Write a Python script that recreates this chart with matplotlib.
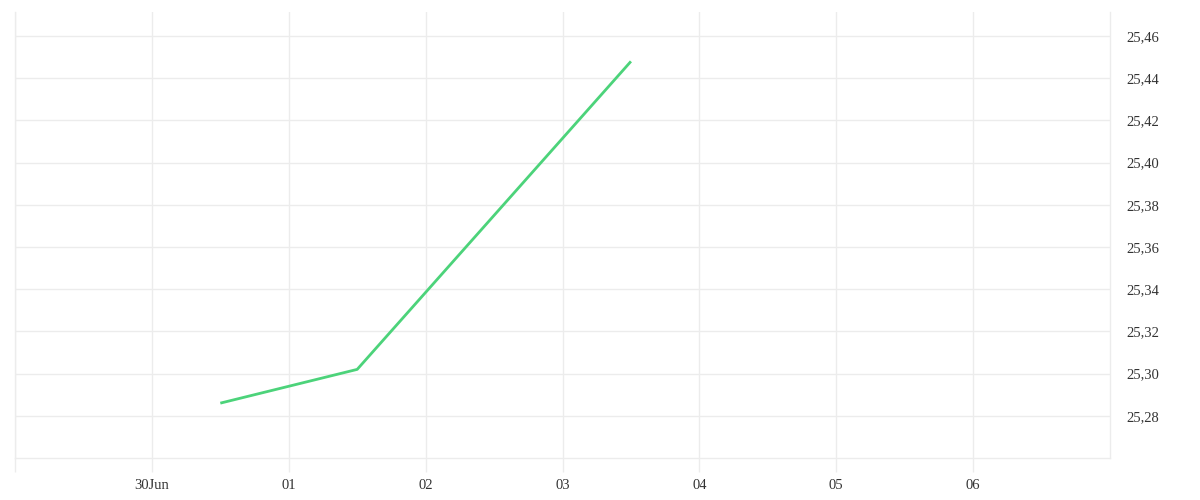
import numpy as np
import pandas as pd
import matplotlib
matplotlib.use("Agg")
import matplotlib.pyplot as plt
import matplotlib.dates as mdates
from matplotlib.ticker import FixedLocator, FuncFormatter

# data
dates = pd.to_datetime(["2023-06-30 12:00", "2023-07-01 12:00",
                        "2023-07-02 12:00", "2023-07-03 12:00"])
values = [25.286, 25.302, 25.375, 25.448]

tick_days = pd.date_range("2023-06-30", "2023-07-06", freq="D")
tick_labels = ["30Jun", "01", "02", "03", "04", "05", "06"]
y_ticks = [25.28, 25.30, 25.32, 25.34, 25.36, 25.38, 25.40, 25.42, 25.44, 25.46]

grid_col = "#ececec"
text_col = "#333333"

plt.rcParams['font.family'] = ['Liberation Serif', 'DejaVu Serif']

fig = plt.figure(figsize=(12, 5), dpi=100)
ax = fig.add_axes([0.0125, 0.084, 0.9125, 0.892])

ax.plot(dates, values, color="#4cd37a", lw=2, solid_capstyle="butt")

ax.set_xlim(pd.Timestamp("2023-06-29"), pd.Timestamp("2023-07-07"))
ax.set_ylim(25.26, 25.4714)

# x axis: one tick per day, plus the left edge tick
ax.xaxis.set_major_locator(FixedLocator(mdates.date2num(
    [pd.Timestamp("2023-06-29")] + list(tick_days))))
xl = [""] + tick_labels
ax.xaxis.set_major_formatter(FuncFormatter(lambda v, p: xl[p] if p is not None and p < len(xl) else ""))
ax.tick_params(axis="x", length=10, width=1, color=grid_col, pad=5,
               labelsize=10.5, labelcolor=text_col)

# y axis on the right
ax.yaxis.tick_right()
ax.set_yticks(y_ticks)
ax.set_yticklabels([f"{v:.2f}".replace(".", ",") for v in y_ticks])
ax.tick_params(axis="y", length=0, pad=12, labelsize=10.5, labelcolor=text_col)

ax.grid(True, color=grid_col, lw=1)
ax.set_axisbelow(True)

ax.spines["top"].set_visible(False)
for s in ["left", "right", "bottom"]:
    ax.spines[s].set_color(grid_col)
    ax.spines[s].set_linewidth(1)

fig.savefig("out.png", dpi=100, facecolor="white")
